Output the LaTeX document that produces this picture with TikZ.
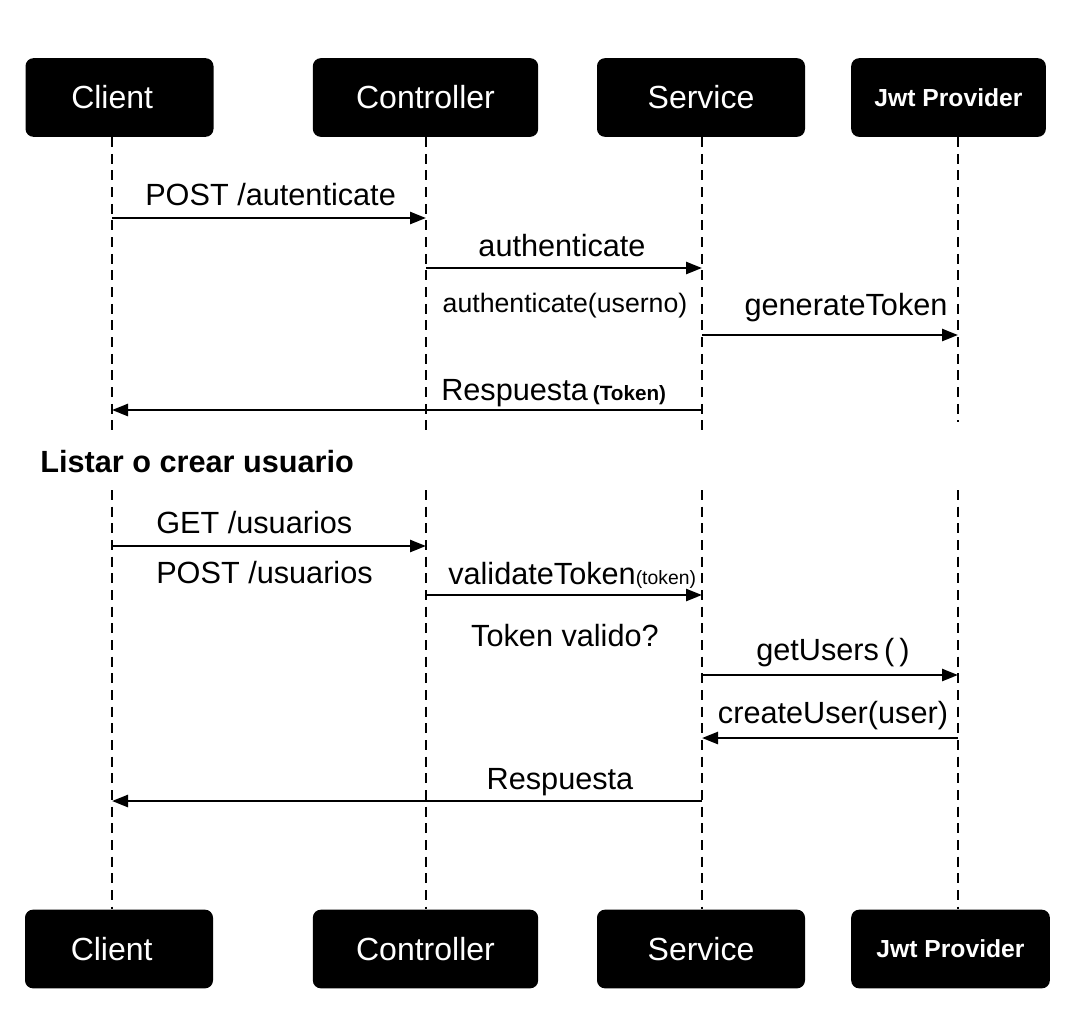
\documentclass[tikz,border=0pt]{standalone}
\usepackage{fontspec}
\setmainfont{Liberation Sans}
\usetikzlibrary{arrows.meta}

\begin{document}
\begin{tikzpicture}[x=0.75pt,y=-0.75pt,
    actor/.style={fill=black,rounded corners=6pt,text=white,inner sep=0pt,
      minimum height=59pt,font=\fontsize{24}{26}\selectfont},
    life/.style={line width=1.4pt,dash pattern=on 7.5pt off 5pt},
    msg/.style={line width=1.9pt,-{Triangle[length=12pt,width=9pt]}},
    lbl/.style={font=\fontsize{23}{26}\selectfont,inner sep=0pt}]
  \useasboundingbox[fill=white] (0,0) rectangle (1067,1026);

  % participants, top and bottom
  \node[actor,minimum width=141pt] (cliTop) at (119.5,97.5) {\hspace*{-11pt}Client};
  \node[actor,minimum width=169pt] (ctlTop) at (425.5,97.5) {Controller};
  \node[actor,minimum width=156pt] (srvTop) at (701,97.5) {Service};
  \node[actor,minimum width=146pt,font=\bfseries\fontsize{18.5}{20}\selectfont] (jwtTop) at (948.5,97.5) {Jwt Provider};
  \node[actor,minimum width=141pt] (cliBot) at (119,949) {\hspace*{-11pt}Client};
  \node[actor,minimum width=169pt] (ctlBot) at (425.5,949) {Controller};
  \node[actor,minimum width=156pt] (srvBot) at (701,949) {Service};
  \node[actor,minimum width=149pt,font=\bfseries\fontsize{18.5}{20}\selectfont] (jwtBot) at (950.5,949) {Jwt Provider};

  % lifelines
  \foreach \n/\x/\e in {cli/112/435, ctl/426/435, srv/702/435, jwt/958/422} {
    \coordinate (\n) at (\x,0);
    \draw[life] (\n |- \n Top.south) -- (\n |- 0,\e);
    \draw[life] (\n |- 0,490) -- (\n |- \n Bot.north);
  }

  % autenticacion
  \draw[msg] (cli |- 0,218) -- (ctl |- 0,218);
  \node[lbl,anchor=base west] (m1) at (145,205) {POST /autenticate};
  \draw[msg] (ctl |- 0,268) -- (srv |- 0,268);
  \node[lbl,anchor=base] (m2) at (562,256) {authenticate};
  \node[lbl,anchor=base,font=\fontsize{20}{22}\selectfont] (m3) at (565,312) {authenticate(userno)};
  \draw[msg] (srv |- 0,335) -- (jwt |- 0,335);
  \node[lbl,anchor=base] (m4) at (846,315) {generateToken};
  \draw[msg] (srv |- 0,410) -- (cli |- 0,410);
  \node[lbl,anchor=base west] (m5) at (441,400) {Respuesta\,{\bfseries\fontsize{15.5}{17}\selectfont(Token)}};

  \node[anchor=base west,inner sep=0pt,font=\bfseries\fontsize{23}{26}\selectfont] (sec) at (40,472) {Listar o crear usuario};

  % listar o crear
  \draw[msg] (cli |- 0,546) -- (ctl |- 0,546);
  \node[lbl,anchor=base west] (m6) at (156,533) {GET /usuarios};
  \node[lbl,anchor=base west] (m7) at (156,583) {POST /usuarios};
  \draw[msg] (ctl |- 0,595) -- (srv |- 0,595);
  \node[lbl,anchor=base west] (m8) at (448,584) {validateToken{\fontsize{14.5}{16}\selectfont(token)}};
  \node[lbl,anchor=base] (m9) at (565,646) {Token valido?};
  \draw[msg] (srv |- 0,675) -- (jwt |- 0,675);
  \node[lbl,anchor=base] (m10) at (833,660) {getUsers\,(\,)};
  \draw[msg] (jwt |- 0,738) -- (srv |- 0,738);
  \node[lbl,anchor=base] (m11) at (833,723) {createUser(user)};
  \draw[msg] (srv |- 0,801) -- (cli |- 0,801);
  \node[lbl,anchor=base] (m12) at (560,789) {Respuesta};
\end{tikzpicture}
\end{document}
